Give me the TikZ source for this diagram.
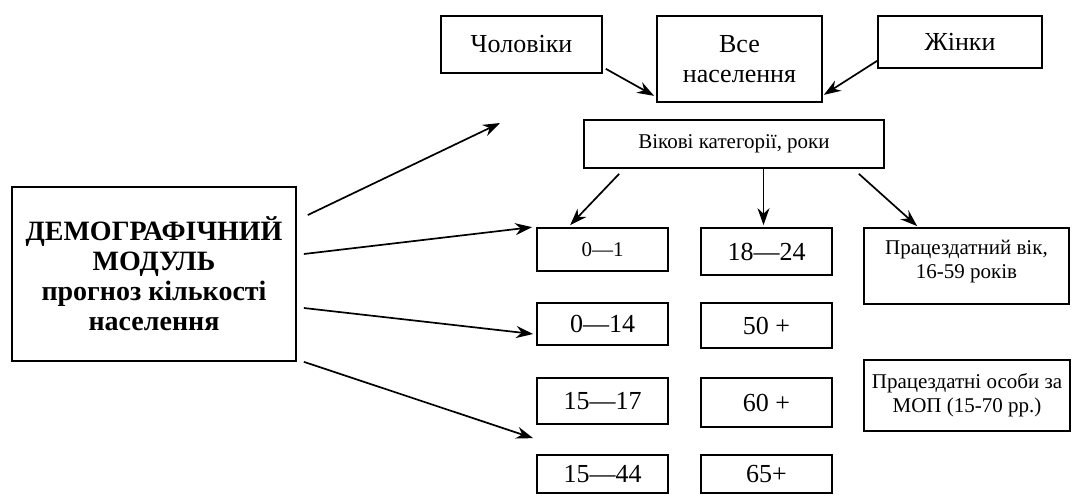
\documentclass[tikz,border=0pt]{standalone}
\usepackage{fontspec}
\setmainfont{Liberation Serif}
\usetikzlibrary{arrows.meta, positioning, calc}

\begin{document}
\begin{tikzpicture}[x=1pt, y=-1pt,
    box/.style={
        rectangle, draw, line width=1.7pt, inner sep=2pt, align=center,
        font=\fontsize{26}{30}\selectfont
    },
    small/.style={font=\fontsize{21}{24}\selectfont},
    agebox/.style={box, minimum width=131pt},
    arrow/.style={-{Stealth[length=17pt, width=12pt]}, line width=1.7pt}
]
\useasboundingbox (0,0) rectangle (1077,497);

% Top row
\node[box, minimum width=161pt, minimum height=57pt] (men) at (521.5,44.5) {Чоловіки};
\node[box, minimum width=165pt, minimum height=86pt] (all) at (739.5,59) {Все\\населення};
\node[box, minimum width=164pt, minimum height=52pt] (women) at (960,42) {Жінки};
\node[box, small, minimum width=300pt, minimum height=48pt] (ages) at (734,144) {Вікові категорії, роки};

% Module
\node[box, minimum width=284pt, minimum height=174pt,
      font=\bfseries\fontsize{28}{30}\selectfont] (demo) at (154,274)
    {ДЕМОГРАФІЧНИЙ\\МОДУЛЬ\\прогноз кількості\\населення};

% Age groups, first column
\node[agebox, small, minimum height=43pt] (a01) at (602.5,249.5) {0—1};
\node[agebox, minimum height=42pt] (a014) at (602.5,324) {0—14};
\node[agebox, minimum height=46pt] (a1517) at (602.5,401) {15—17};
\node[agebox, minimum height=38pt] (a1544) at (602.5,474) {15—44};

% Age groups, second column
\node[agebox, minimum height=47pt] (a1824) at (766.5,251.5) {18—24};
\node[agebox, minimum height=45pt] (a50) at (766.5,325.5) {50 +};
\node[agebox, minimum height=49pt] (a60) at (766.5,402.5) {60 +};
\node[agebox, minimum height=38pt] (a65) at (766.5,474) {65+};

% Working age
\node[box, small, minimum width=205pt, minimum height=76pt] (work) at (966.5,266)
    {Працездатний вік,\\16-59 років\\[-10pt]\mbox{}};
\node[box, small, minimum width=206pt, minimum height=71pt, inner sep=0pt] (ilo) at (967,395.5)
    {Працездатні особи за\\МОП (15-70 рр.)};

% Free end of the upper arrow
\coordinate (up) at (500,123);

% Arrows into the population box
\draw[arrow] ([xshift=3pt,yshift=5pt]men.south east) -- ([xshift=-2pt,yshift=7pt]all.south west);
\draw[arrow] ([yshift=8pt]women.south west) -- ([xshift=1pt,yshift=8pt]all.south east);

% Arrows out of the age categories
\draw[arrow] ([xshift=36pt,yshift=-5pt]ages.south west) -- ([xshift=34pt,yshift=2pt]a01.north west);
\draw[arrow] ([xshift=-3pt]a1824.north |- ages.south) -- ([xshift=-3pt,yshift=2pt]a1824.north);
\draw[arrow] ([xshift=-26pt,yshift=-5pt]ages.south east) -- ([xshift=54pt,yshift=1pt]work.north west);

% Arrows out of the module
\draw[arrow] ([xshift=11pt,yshift=59pt]demo.east) -- (up);
\draw[arrow] ([xshift=7pt,yshift=20pt]demo.east) -- ([xshift=-4pt]a01.north west);
\draw[arrow] ([xshift=7pt,yshift=-34pt]demo.east) -- ([xshift=-3pt,yshift=-10pt]a014.west);
\draw[arrow] ([xshift=7pt]demo.south east) -- ([xshift=-3pt,yshift=16pt]a1544.north west);

\end{tikzpicture}
\end{document}
